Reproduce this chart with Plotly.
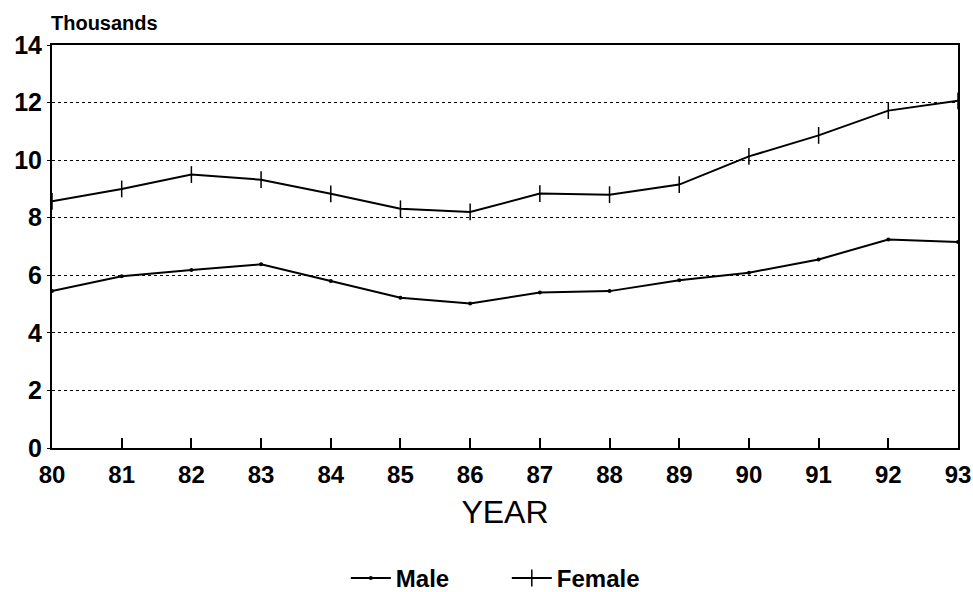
import plotly.graph_objects as go

years = list(range(80, 94))
year_labels = [str(y) for y in years]
male = [5.45, 5.97, 6.18, 6.38, 5.80, 5.22, 5.02, 5.40, 5.45, 5.83, 6.09, 6.55, 7.24, 7.16]
female = [8.57, 9.0, 9.5, 9.32, 8.83, 8.31, 8.2, 8.84, 8.80, 9.15, 10.13, 10.86, 11.72, 12.06]
y_ticks = [0, 2, 4, 6, 8, 10, 12, 14]

fig = go.Figure()
fig.add_trace(go.Scatter(x=years, y=male, name="Male", mode="lines+markers",
                         line=dict(color="black", width=2),
                         marker=dict(symbol="circle", size=4, color="black")))
fig.add_trace(go.Scatter(x=years, y=female, name="Female", mode="lines+markers",
                         line=dict(color="black", width=2),
                         marker=dict(symbol="line-ns", size=12, color="black",
                                     line=dict(color="black", width=1.5))))

font = "Liberation Sans, Arial, sans-serif"
fig.update_layout(
    width=973, height=592,
    margin=dict(l=52, r=15, t=45, b=144),
    plot_bgcolor="white", paper_bgcolor="white",
    font=dict(family=font, color="black"),
    showlegend=True,
    legend=dict(orientation="h", x=0.502, xanchor="center",
                yref="container", y=0.023, yanchor="middle",
                font=dict(size=24, family=font, weight="bold"), entrywidth=106,
                itemwidth=40, traceorder="normal", bgcolor="rgba(0,0,0,0)"),
    xaxis=dict(range=[80, 93], tickvals=years, ticktext=year_labels,
               tickfont=dict(size=24, weight="bold"), showgrid=False, zeroline=False,
               automargin=False, ticklabeloverflow="allow", ticklabelstandoff=4,
               showline=True, mirror=True, linecolor="black", linewidth=2,
               ticks="inside", ticklen=10, tickcolor="black", tickwidth=1.5,
               title=dict(text="YEAR", font=dict(size=32), standoff=14)),
    yaxis=dict(range=[0, 14], tickvals=y_ticks, ticktext=[str(v) for v in y_ticks],
               tickfont=dict(size=25, weight="bold"), showgrid=True, gridcolor="black",
               griddash="dot", gridwidth=1, zeroline=False, automargin=False,
               showline=True, mirror=True, linecolor="black", linewidth=2,
               ticks="outside", ticklen=3, tickcolor="black"),
    annotations=[dict(text="Thousands", x=0, xref="paper", xanchor="left", xshift=-3,
                      y=1, yref="paper", yanchor="middle", yshift=22,
                      showarrow=False, font=dict(size=20, family=font, weight="bold"))],
)
fig.write_html("out.html", config={"displayModeBar": False},
               post_script="document.body.style.margin='0';")
